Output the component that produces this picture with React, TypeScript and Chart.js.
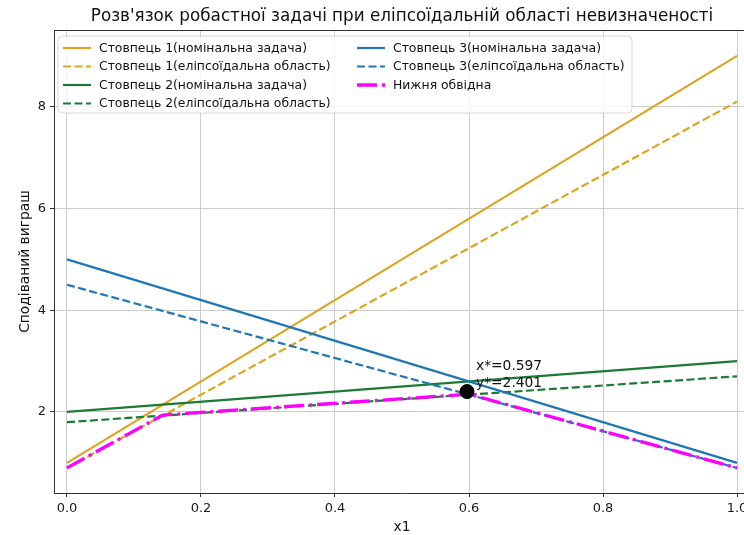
import React, { useEffect, useRef } from "react";
import { Chart, registerables } from "chart.js";

Chart.register(...registerables);

// ---- data ----
const xValues = [0, 1];
const col1Nominal = [1, 9];
const col1Ellipsoid = [0.9, 8.1];
const col2Nominal = [2, 3];
const col2Ellipsoid = [1.8, 2.7];
const col3Nominal = [5, 1];
const col3Ellipsoid = [4.5, 0.9];
const envelopeX = [0, 0.143, 0.6, 1];
const envelopeY = [0.9, 1.94, 2.35, 0.9];
const optimumX = 0.597;
const optimumY = 2.401;
const xTicks = [0, 0.2, 0.4, 0.6, 0.8, 1.0];
const yTicks = [2, 4, 6, 8];
const seriesLabels = [
  "Стовпець 1(номінальна задача)",
  "Стовпець 1(еліпсоїдальна область)",
  "Стовпець 2(номінальна задача)",
  "Стовпець 2(еліпсоїдальна область)",
  "Стовпець 3(номінальна задача)",
  "Стовпець 3(еліпсоїдальна область)",
  "Нижня обвідна",
];
const titleText = "Розв'язок робастної задачі при еліпсоїдальній області невизначеності";
const xTitle = "x1";
const yTitle = "Сподіваний виграш";

const FONT = "'DejaVu Sans', 'Liberation Sans', sans-serif";
const GOLD = "#DAA520";
const GREEN = "#1b7a35";
const BLUE = "#1f77b4";
const MAGENTA = "#ff00ff";

const pts = (xs: number[], ys: number[]) => xs.map((x, i) => ({ x, y: ys[i] }));

const decorPlugin = {
  id: "decor",
  afterDraw(chart: any) {
    const ctx = chart.ctx as CanvasRenderingContext2D;
    const ca = chart.chartArea;
    const xs = chart.scales.x;
    const ys = chart.scales.y;
    ctx.save();
    // spines (top / right)
    ctx.strokeStyle = "#333";
    ctx.lineWidth = 1;
    ctx.setLineDash([]);
    ctx.beginPath();
    ctx.moveTo(ca.left, ca.top + 0.5);
    ctx.lineTo(ca.right, ca.top + 0.5);
    ctx.lineTo(ca.right - 0.5, ca.bottom);
    ctx.stroke();

    // annotation text
    const px = xs.getPixelForValue(optimumX);
    const py = ys.getPixelForValue(optimumY);
    ctx.fillStyle = "#111";
    ctx.font = `13.8px ${FONT}`;
    ctx.textAlign = "left";
    ctx.textBaseline = "middle";
    ctx.fillText(`x*=${optimumX.toFixed(3)}`, px + 9, py - 25);
    ctx.fillText(`y*=${optimumY.toFixed(3)}`, px + 9, py - 8);

    // legend
    const bx = 58, by = 36, bw = 574, bh = 77, r = 4;
    ctx.beginPath();
    ctx.moveTo(bx + r, by);
    ctx.arcTo(bx + bw, by, bx + bw, by + bh, r);
    ctx.arcTo(bx + bw, by + bh, bx, by + bh, r);
    ctx.arcTo(bx, by + bh, bx, by, r);
    ctx.arcTo(bx, by, bx + bw, by, r);
    ctx.closePath();
    ctx.fillStyle = "rgba(255,255,255,0.8)";
    ctx.fill();
    ctx.strokeStyle = "#d6d6d6";
    ctx.lineWidth = 1;
    ctx.stroke();

    const rowsY = [48, 66.5, 85, 103.5];
    const colX = [63, 357];
    ctx.font = `12.4px ${FONT}`;
    ctx.textBaseline = "middle";
    chart.data.datasets.slice(0, 7).forEach((ds: any, i: number) => {
      const col = i < 4 ? 0 : 1;
      const row = i < 4 ? i : i - 4;
      const hx = colX[col];
      const hy = rowsY[row];
      ctx.strokeStyle = ds.borderColor;
      ctx.lineWidth = ds.borderWidth;
      ctx.setLineDash(ds.borderDash || []);
      ctx.lineCap = "butt";
      ctx.beginPath();
      ctx.moveTo(hx, hy);
      ctx.lineTo(hx + 28, hy);
      ctx.stroke();
      ctx.setLineDash([]);
      ctx.fillStyle = "#111";
      ctx.fillText(ds.label, hx + 36, hy + 0.5);
    });

    // title
    ctx.font = `16.8px ${FONT}`;
    ctx.textAlign = "center";
    ctx.fillStyle = "#111";
    ctx.fillText(titleText, (ca.left + ca.right) / 2, 17);

    // axis titles
    ctx.font = `13.8px ${FONT}`;
    ctx.fillText(xTitle, (ca.left + ca.right) / 2, 527);
    ctx.translate(25, (ca.top + ca.bottom) / 2);
    ctx.rotate(-Math.PI / 2);
    ctx.fillText(yTitle, 0, 0);
    ctx.restore();
  },
};

export default function App() {
  const ref = useRef<HTMLCanvasElement | null>(null);
  useEffect(() => {
    if (!ref.current) return;
    const line = (label: string, xs: number[], ys: number[], color: string, dash: number[] | undefined, width: number, order: number) => ({
      type: "line" as const,
      label,
      data: pts(xs, ys),
      borderColor: color,
      backgroundColor: color,
      borderWidth: width,
      borderDash: dash,
      pointRadius: 0,
      fill: false,
      tension: 0,
      order,
    });
    const chart = new Chart(ref.current, {
      type: "line",
      data: {
        datasets: [
          line(seriesLabels[0], xValues, col1Nominal, GOLD, undefined, 2.2, 10),
          line(seriesLabels[1], xValues, col1Ellipsoid, GOLD, [8, 3.5], 2.2, 9),
          line(seriesLabels[2], xValues, col2Nominal, GREEN, undefined, 2.2, 8),
          line(seriesLabels[3], xValues, col2Ellipsoid, GREEN, [8, 3.5], 2.2, 7),
          line(seriesLabels[4], xValues, col3Nominal, BLUE, undefined, 2.2, 6),
          line(seriesLabels[5], xValues, col3Ellipsoid, BLUE, [8, 3.5], 2.2, 5),
          line(seriesLabels[6], envelopeX, envelopeY, MAGENTA, [20, 5, 3, 5], 3.3, 4),
          {
            type: "scatter" as const,
            label: "optimum",
            data: [{ x: optimumX, y: optimumY }],
            backgroundColor: "#000",
            borderColor: "#000",
            pointRadius: 7,
            showLine: false,
            order: 1,
          } as any,
        ],
      },
      options: {
        animation: false,
        responsive: false,
        devicePixelRatio: 1,
        layout: { padding: { top: 30, right: 54, left: 0, bottom: 0 } },
        plugins: { legend: { display: false }, title: { display: false }, tooltip: { enabled: false } },
        scales: {
          x: {
            type: "linear",
            min: -0.0194,
            max: 1.0194,
            afterBuildTicks: (s: any) => {
              s.ticks = xTicks.map((v) => ({ value: v }));
            },
            afterFit: (s: any) => {
              s.height = 42;
            },
            ticks: {
              callback: (v: any) => Number(v).toFixed(1),
              font: { family: FONT, size: 13 },
              color: "#1a1a1a",
              padding: 4,
              maxRotation: 0,
            },
            grid: { color: "#cbcbcb", lineWidth: 1, tickColor: "#333", tickLength: 4 },
            border: { color: "#333", width: 1 },
          },
          y: {
            type: "linear",
            min: 0.407,
            max: 9.508,
            afterBuildTicks: (s: any) => {
              s.ticks = yTicks.map((v) => ({ value: v }));
            },
            afterFit: (s: any) => {
              s.width = 54;
            },
            ticks: {
              callback: (v: any) => String(v),
              font: { family: FONT, size: 13 },
              color: "#1a1a1a",
              padding: 4,
            },
            grid: { color: "#cbcbcb", lineWidth: 1, tickColor: "#333", tickLength: 4 },
            border: { color: "#333", width: 1 },
          },
        },
      },
      plugins: [decorPlugin],
    });
    return () => chart.destroy();
  }, []);

  return (
    <div style={{ position: "fixed", left: 0, top: 0, width: 744, height: 535, overflow: "hidden", background: "#fff" }}>
      <canvas ref={ref} width={804} height={535} style={{ display: "block", width: 804, height: 535 }} />
    </div>
  );
}
